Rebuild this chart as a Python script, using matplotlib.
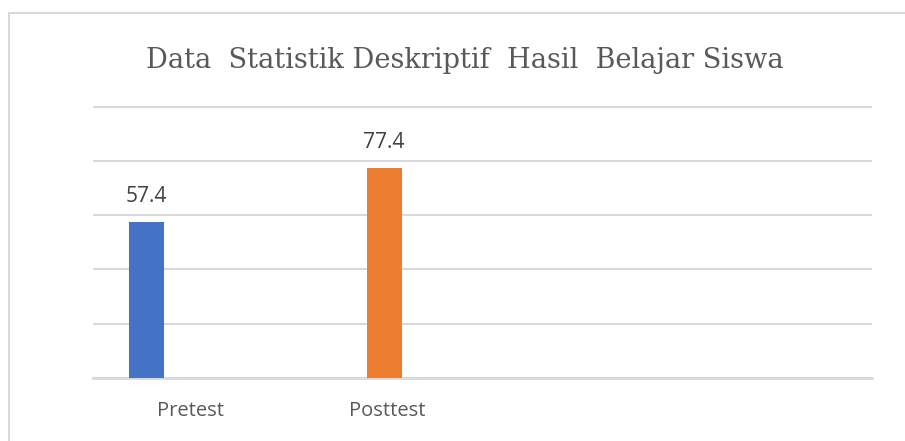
import numpy as np
import matplotlib.pyplot as plt
from matplotlib.patches import Rectangle

categories = ["Pretest", "Posttest"]
values = [57.4, 77.4]
colors = ["#4472C4", "#ED7D31"]
title = "Data  Statistik Deskriptif  Hasil  Belajar Siswa"

W, H = 905, 441
fig = plt.figure(figsize=(W / 100, H / 100), dpi=100)

# chart border (runs off the right and bottom of the crop)
fig.patches.append(Rectangle((9 / W, -0.1), 1.2, (H - 13) / H + 0.1,
                             transform=fig.transFigure, fill=False,
                             edgecolor="#D9D9D9", linewidth=1.5))

# plot area in pixels
left, right, bottom = 93, 872, 63
ymax = 102
top = 378 - ymax * 2.715
ax = fig.add_axes([left / W, bottom / H, (right - left) / W, (H - top - bottom) / H])

x = np.arange(len(categories))
ax.bar(x, values, width=0.147, color=colors, zorder=3)
ax.set_xlim(-0.2227, 3.05)
ax.set_ylim(0, ymax)

ax.set_yticks(np.arange(0, 101, 20))
ax.yaxis.grid(True, color="#D9D9D9", linewidth=1.5, zorder=0)
ax.axhline(0, color="#D9D9D9", linewidth=2, clip_on=False, zorder=2)
ax.tick_params(axis="y", left=False, labelleft=False)
for s in ax.spines.values():
    s.set_visible(False)

ax.set_xticks(x + np.array([0.185, 0.013]))
ax.set_xticklabels(categories, fontsize=14.5, color="#595959", family="Open Sans")
ax.tick_params(axis="x", bottom=False, pad=13)

for xi, v in zip(x, values):
    ax.annotate(f"{v}", (xi, v), xytext=(0, 11), textcoords="offset points",
                ha="center", va="bottom", fontsize=15, color="#404040",
                family="Open Sans")

fig.text(464.5 / W, 1 - 61 / H, title, ha="center", va="center",
         fontsize=19.6, color="#595959", family="DejaVu Serif")

fig.savefig("out.png", dpi=100)
